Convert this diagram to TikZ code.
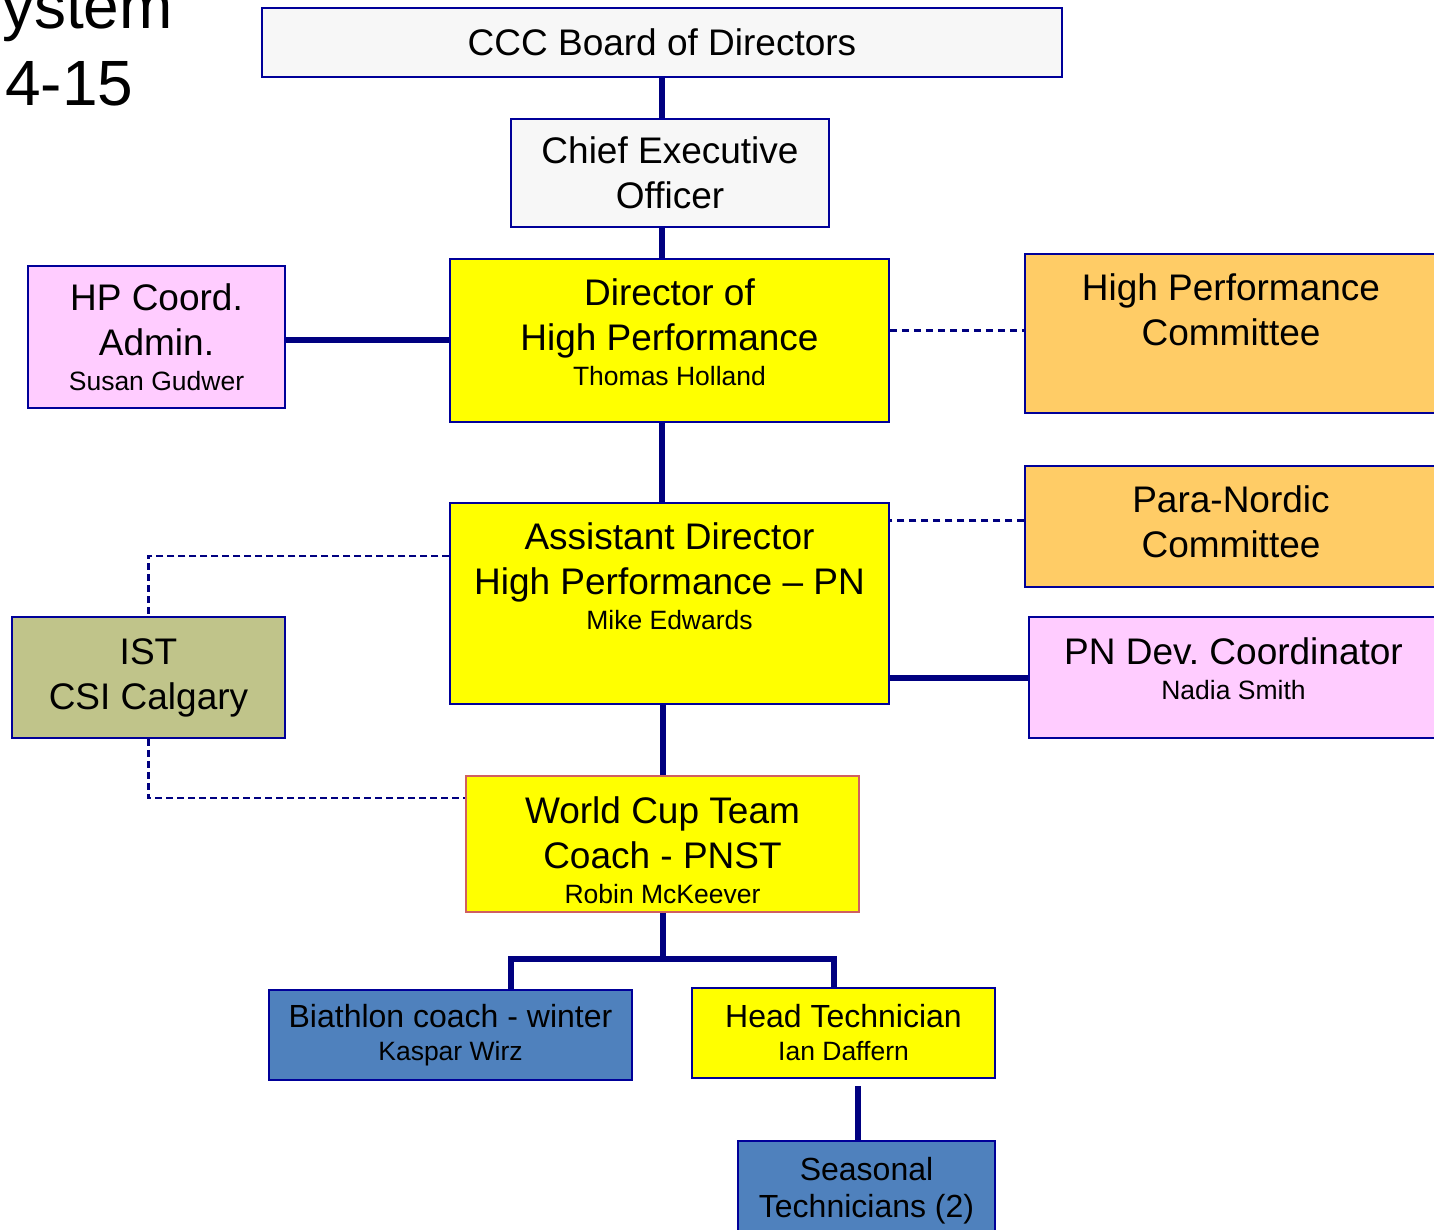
\documentclass[tikz,border=0pt]{standalone}
\usepackage{fontspec}
\setmainfont{Liberation Sans}
\usetikzlibrary{positioning}
\definecolor{navy}{HTML}{000080}
\definecolor{boxline}{HTML}{000099}
\definecolor{paper}{HTML}{F7F7F7}
\definecolor{hpyellow}{HTML}{FFFF00}
\definecolor{hppink}{HTML}{FFCCFF}
\definecolor{hporange}{HTML}{FFCC66}
\definecolor{hpolive}{HTML}{C0C48A}
\definecolor{hpblue}{HTML}{4F81BD}
\definecolor{hpred}{HTML}{D06060}
\newcommand{\bigt}{\fontsize{37}{45}\selectfont}
\newcommand{\midt}{\fontsize{32}{37}\selectfont}
\newcommand{\namet}{\fontsize{26.5}{30}\selectfont}

\begin{document}
\begin{tikzpicture}[x=1pt, y=-1pt,
  box/.style={draw=boxline, line width=1.5pt, inner sep=0pt, align=center, font=\bigt},
  txt/.style={inner sep=0pt, align=center, font=\bigt},
  conn/.style={draw=navy, line width=6pt},
  rel/.style={draw=navy, line width=2.2pt, dash pattern=on 7pt off 5pt},
  rel2/.style={draw=navy, line width=2.4pt, dash pattern=on 7pt off 4pt}]
\useasboundingbox (0,0) rectangle (1434,1230);

% title, cut at the left edge
\node[anchor=base east, inner sep=0pt, font=\fontsize{64}{77}\selectfont] (sys) at (173,29) {System};
\node[anchor=base west, inner sep=0pt, font=\fontsize{64}{77}\selectfont] (yr) at (5,106) {4-15};

% boxes
\node[box, fill=paper, minimum width=800pt, minimum height=69pt] (board) at (662,42.5) {CCC Board of Directors};
\node[box, fill=paper, minimum width=318pt, minimum height=108pt] (ceo) at (670,173) {Chief Executive\\Officer};
\node[box, fill=hpyellow, minimum width=439pt, minimum height=163pt] (dhp) at (669.5,340.5) {};
\node[txt, anchor=north] (dhptxt) at ([yshift=-20pt]dhp.north)
  {Director of\\High Performance\\[-10pt]{\namet Thomas Holland}};
\node[box, fill=hppink, minimum width=257pt, minimum height=142pt] (hpco) at (156.5,337)
  {HP Coord.\\Admin.\\[-10pt]{\namet Susan Gudwer}};
\node[box, fill=hporange, minimum width=412pt, minimum height=159pt] (hpc) at (1231,333.5) {};
\node[txt, anchor=north] (hpctxt) at ([yshift=-20pt]hpc.north) {High Performance\\Committee};
\node[box, fill=hporange, minimum width=412pt, minimum height=121pt] (pnc) at (1231,526.5) {};
\node[txt, anchor=north] (pnctxt) at ([yshift=-20pt]pnc.north) {Para-Nordic\\Committee};
\node[box, fill=hpyellow, minimum width=439pt, minimum height=201pt] (ad) at (669.5,603.5) {};
\node[txt, anchor=north] (adtxt) at ([yshift=-20pt]ad.north)
  {Assistant Director\\High Performance -- PN\\[-10pt]{\namet Mike Edwards}};
\node[box, fill=hppink, minimum width=409pt, minimum height=121pt] (pnd) at (1233.5,677.5) {};
\node[txt, anchor=north] (pndtxt) at ([yshift=-21pt]pnd.north)
  {PN Dev.\ Coordinator\\[-10pt]{\namet Nadia Smith}};
\node[box, fill=hpolive, minimum width=273pt, minimum height=121pt] (ist) at (148.5,677.5) {IST\\CSI Calgary};
\node[box, draw=hpred, fill=hpyellow, minimum width=393pt, minimum height=136pt] (wc) at (662.5,844) {};
\node[txt, anchor=north] (wctxt) at ([yshift=-21pt]wc.north)
  {World Cup Team\\Coach - PNST\\[-10pt]{\namet Robin McKeever}};
\node[box, fill=hpblue, minimum width=363pt, minimum height=90pt, font=\midt] (bia) at (450.5,1035)
  {Biathlon coach - winter\\[-4pt]{\namet Kaspar Wirz}};
\node[box, fill=hpyellow, minimum width=303pt, minimum height=90pt, font=\midt] (ht) at (843.5,1033)
  {Head Technician\\[-4pt]{\namet Ian Daffern}};
\node[box, fill=hpblue, minimum width=257pt, minimum height=100pt, font=\midt] (st) at (866.5,1191)
  {Seasonal\\Technicians (2)};

% solid lines
\draw[conn] (board.south) -- (board.south |- ceo.north);
\draw[conn] (ceo.south -| board.south) -- (dhp.north -| board.south);
\draw[conn] (dhp.south -| board.south) -- (ad.north -| board.south);
\draw[conn] (ad.south -| wc.north) -- (wc.north);
\draw[conn] ([yshift=-3pt]hpco.east) -- ([yshift=-3pt]dhp.west |- hpco.east);
\draw[conn] (pnd.west) -- (ad.east |- pnd.west);
\draw[conn] (wc.south) -- ++(0,48);
\draw[conn] ([xshift=60.5pt]bia.north) -- ++(0,-30) -| ([xshift=-9.5pt]ht.north);
\draw[conn] ([xshift=-8.5pt]st.north) -- ++(0,-54);

% dashed lines
\draw[rel] ([yshift=10pt]dhp.east) -- ([yshift=10pt]dhp.east -| hpc.west);
\draw[rel] ([yshift=6pt]pnc.west) -- ([yshift=6pt]pnc.west -| ad.east);
\draw[rel2] ([yshift=47.5pt]ad.west) -| (ist.north);
\draw[rel2] (ist.south) |- ([yshift=46pt]wc.west);
\end{tikzpicture}
\end{document}
